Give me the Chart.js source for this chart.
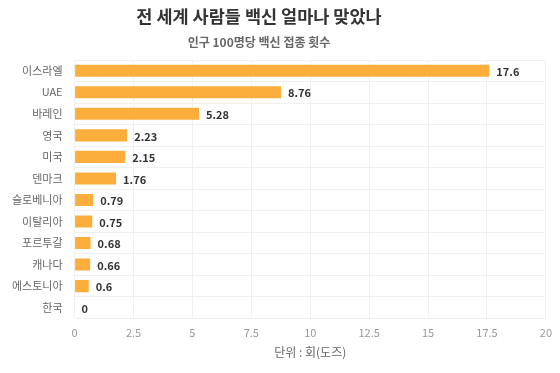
<!DOCTYPE html>
<html>
<head>
<meta charset="utf-8">
<script src="https://cdn.jsdelivr.net/npm/chart.js@4"></script>
<style>
  html, body { margin: 0; padding: 0; background: #fff; }
  #wrap { width: 560px; height: 373px; }
</style>
</head>
<body>
<div id="wrap"><canvas id="chart"></canvas></div>
<script>
const countries = ["이스라엘", "UAE", "바레인", "영국", "미국", "덴마크", "슬로베니아", "이탈리아", "포르투갈", "캐나다", "에스토니아", "한국"];
const doses = [17.6, 8.76, 5.28, 2.23, 2.15, 1.76, 0.79, 0.75, 0.68, 0.66, 0.6, 0];
const xTicks = [0, 2.5, 5, 7.5, 10, 12.5, 15, 17.5, 20];

const FONT = "'Noto Sans CJK KR', 'Noto Sans', sans-serif";

// 막대 끝에 값 표시
const valueLabels = {
    id: "valueLabels",
    afterDatasetsDraw(chart) {
        const ctx = chart.ctx;
        const meta = chart.getDatasetMeta(0);
        ctx.save();
        ctx.font = "bold 11px " + FONT;
        ctx.fillStyle = "#333";
        ctx.textAlign = "left";
        ctx.textBaseline = "middle";
        meta.data.forEach((bar, i) => {
            ctx.fillText(String(doses[i]), bar.x + 7, bar.y + 1);
        });
        ctx.restore();
    }
};

// 제목은 원본처럼 약간 왼쪽으로
const shiftTitles = {
    id: "shiftTitles",
    afterLayout(chart) {
        chart.boxes.forEach(b => {
            if (b.options && typeof b.options.text === "string" && b.position === "top") {
                b.left -= 17;
                b.right -= 17;
            }
        });
    }
};

new Chart(document.getElementById("chart"), {
    type: "bar",
    data: {
        labels: countries,
        datasets: [{
            data: doses,
            backgroundColor: "#FBAE3C",
            borderWidth: 0,
            barPercentage: 0.56,
            categoryPercentage: 1
        }]
    },
    options: {
        indexAxis: "y",
        responsive: true,
        maintainAspectRatio: false,
        animation: false,
        layout: { padding: { left: 0, right: 8, top: 0, bottom: 9 } },
        plugins: {
            legend: { display: false },
            tooltip: { enabled: false },
            title: {
                display: true,
                text: "전 세계 사람들 백신 얼마나 맞았나",
                color: "#333",
                font: { family: FONT, size: 17.5, weight: "bold" },
                padding: { top: 6, bottom: 4 }
            },
            subtitle: {
                display: true,
                text: "인구 100명당 백신 접종 횟수",
                color: "#666",
                font: { family: FONT, size: 12, weight: "bold" },
                padding: { top: 4, bottom: 10.6 }
            }
        },
        scales: {
            x: {
                min: 0,
                max: 20,
                afterBuildTicks: axis => { axis.ticks = xTicks.map(v => ({ value: v })); },
                grid: { color: "#f0f0f0", drawTicks: false },
                border: { display: false },
                ticks: {
                    color: "#999",
                    padding: 8,
                    font: { family: FONT, size: 11 }
                },
                title: {
                    display: true,
                    text: "단위 : 회(도즈)",
                    color: "#666",
                    font: { family: FONT, size: 12 },
                    padding: { top: -2, bottom: 4 }
                }
            },
            y: {
                grid: { color: "#f0f0f0", drawTicks: false, offset: true },
                border: { display: false },
                ticks: {
                    color: "#666",
                    padding: 12,
                    font: { family: FONT, size: 11 }
                }
            }
        }
    },
    plugins: [valueLabels, shiftTitles]
});
</script>
</body>
</html>
